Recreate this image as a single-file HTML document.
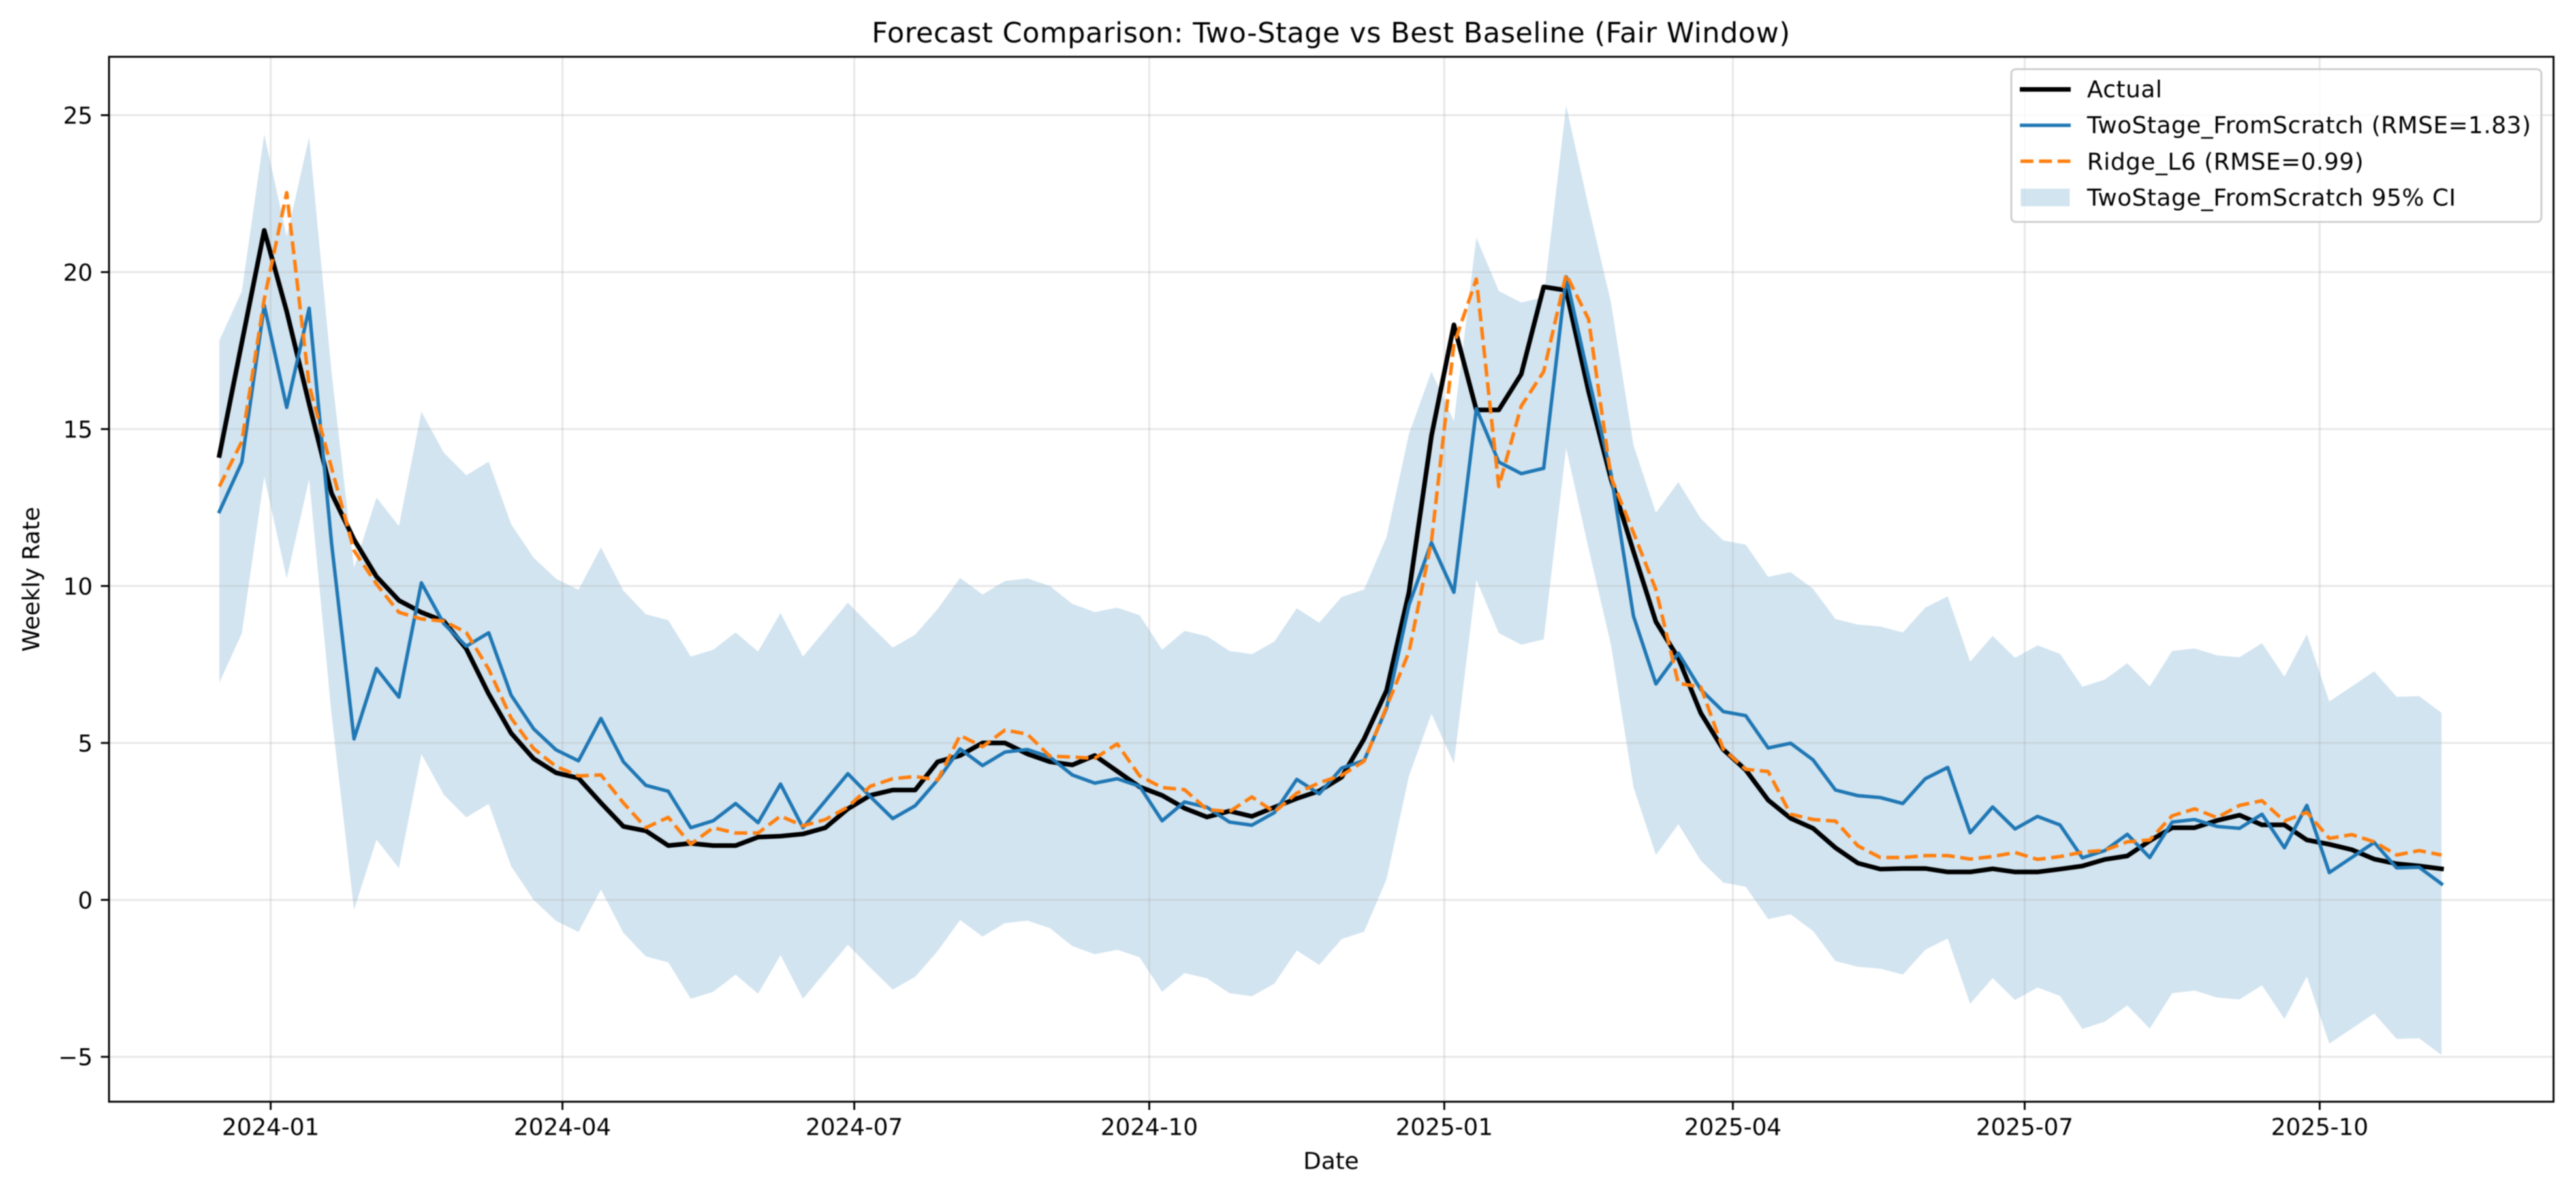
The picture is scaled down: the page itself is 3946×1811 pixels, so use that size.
<!DOCTYPE html>
<html lang="en">
<head>
<meta charset="utf-8">
<title>Forecast Comparison: Two-Stage vs Best Baseline (Fair Window)</title>
<style>
html,body{margin:0;padding:0;background:#fff;}
#chart-root{display:block;width:3946px;height:1811px;filter:blur(0.7px);}
text{font-family:"DejaVu Sans","Liberation Sans",sans-serif;fill:#000;}
.legend-text{letter-spacing:0.62px;}
.title-text{letter-spacing:0.62px;}
</style>
</head>
<body>
<svg id="chart-root" xmlns="http://www.w3.org/2000/svg" width="3946" height="1811" viewBox="0 0 3946 1811">
  <rect x="0" y="0" width="3946" height="1811" fill="#ffffff"/>
  <g id="ci-layer"></g>
  <g id="grid-layer"></g>
  <g id="line-layer"></g>
  <g id="tick-layer"></g>
  <rect x="167" y="87" width="3744.6" height="1601" fill="none" stroke="#000" stroke-width="2.86"/>
  <text class="title-text" x="2039" y="65" font-size="42.8" text-anchor="middle">Forecast Comparison: Two-Stage vs Best Baseline (Fair Window)</text>
  <text x="2039" y="1791" font-size="35.7" text-anchor="middle">Date</text>
  <text x="60" y="887.5" font-size="35.7" text-anchor="middle" transform="rotate(-90 60 887.5)">Weekly Rate</text>
  <g>
    <rect x="3081" y="106" width="812" height="234" rx="7" ry="7" fill="#ffffff" fill-opacity="0.8" stroke="#cccccc" stroke-width="2.86"/>
    <g>
      <line x1="3094" y1="137" x2="3172" y2="137" stroke="#000" stroke-width="7.1"/>
      <text class="legend-text" x="3197" y="149" font-size="35.7">Actual</text>
    </g>
    <g>
      <line x1="3094" y1="192" x2="3172" y2="192" stroke="#1f77b4" stroke-width="5.35"/>
      <text class="legend-text" x="3197" y="204" font-size="35.7">TwoStage_FromScratch (RMSE=1.83)</text>
    </g>
    <g>
      <line x1="3095" y1="247" x2="3172" y2="247" stroke="#ff7f0e" stroke-width="5.35" stroke-dasharray="19.8 8.6"/>
      <text class="legend-text" x="3197" y="260" font-size="35.7">Ridge_L6 (RMSE=0.99)</text>
    </g>
    <g>
      <rect x="3095.5" y="289" width="75" height="27" fill="#1f77b4" fill-opacity="0.2"/>
      <text class="legend-text" x="3197" y="315" font-size="35.7">TwoStage_FromScratch 95% CI</text>
    </g>
  </g>
</svg>
<script>
const dates = ["2023-12-16","2023-12-23","2023-12-30","2024-01-06","2024-01-13","2024-01-20","2024-01-27","2024-02-03","2024-02-10","2024-02-17","2024-02-24","2024-03-02","2024-03-09","2024-03-16","2024-03-23","2024-03-30","2024-04-06","2024-04-13","2024-04-20","2024-04-27","2024-05-04","2024-05-11","2024-05-18","2024-05-25","2024-06-01","2024-06-08","2024-06-15","2024-06-22","2024-06-29","2024-07-06","2024-07-13","2024-07-20","2024-07-27","2024-08-03","2024-08-10","2024-08-17","2024-08-24","2024-08-31","2024-09-07","2024-09-14","2024-09-21","2024-09-28","2024-10-05","2024-10-12","2024-10-19","2024-10-26","2024-11-02","2024-11-09","2024-11-16","2024-11-23","2024-11-30","2024-12-07","2024-12-14","2024-12-21","2024-12-28","2025-01-04","2025-01-11","2025-01-18","2025-01-25","2025-02-01","2025-02-08","2025-02-15","2025-02-22","2025-03-01","2025-03-08","2025-03-15","2025-03-22","2025-03-29","2025-04-05","2025-04-12","2025-04-19","2025-04-26","2025-05-03","2025-05-10","2025-05-17","2025-05-24","2025-05-31","2025-06-07","2025-06-14","2025-06-21","2025-06-28","2025-07-05","2025-07-12","2025-07-19","2025-07-26","2025-08-02","2025-08-09","2025-08-16","2025-08-23","2025-08-30","2025-09-06","2025-09-13","2025-09-20","2025-09-27","2025-10-04","2025-10-11","2025-10-18","2025-10-25","2025-11-01","2025-11-08"];
const actualValues = [14.16,17.75,21.33,18.75,15.8,12.95,11.48,10.3,9.54,9.16,8.88,8.0,6.56,5.31,4.5,4.05,3.88,3.09,2.34,2.2,1.73,1.8,1.73,1.73,2.0,2.03,2.1,2.3,2.9,3.33,3.5,3.5,4.4,4.6,5.0,5.0,4.65,4.4,4.3,4.6,4.1,3.6,3.33,2.92,2.64,2.83,2.66,2.95,3.23,3.47,3.91,5.13,6.67,9.81,14.78,18.32,15.61,15.61,16.75,19.53,19.42,16.2,13.4,11.1,8.86,7.7,5.95,4.79,4.14,3.18,2.6,2.28,1.66,1.17,0.98,1.0,1.0,0.89,0.89,0.99,0.89,0.89,0.98,1.08,1.29,1.4,1.88,2.3,2.3,2.53,2.7,2.39,2.39,1.91,1.77,1.6,1.3,1.15,1.08,0.99];
const twoStageValues = [12.37,13.94,18.94,15.69,18.85,11.35,5.13,7.37,6.46,10.1,8.8,8.08,8.51,6.52,5.45,4.78,4.43,5.78,4.4,3.65,3.46,2.3,2.52,3.07,2.46,3.69,2.3,3.16,4.02,3.29,2.59,3.0,3.82,4.81,4.28,4.71,4.79,4.55,3.98,3.72,3.86,3.62,2.52,3.12,2.95,2.48,2.38,2.78,3.84,3.38,4.2,4.44,6.11,9.4,11.38,9.8,15.65,13.95,13.58,13.75,19.85,16.64,13.57,9.04,6.88,7.86,6.7,6.0,5.87,4.84,4.99,4.46,3.5,3.32,3.26,3.07,3.86,4.22,2.14,2.96,2.26,2.66,2.39,1.34,1.57,2.09,1.35,2.48,2.56,2.34,2.28,2.73,1.66,3.01,0.87,1.35,1.83,1.02,1.04,0.51];
const ridgeValues = [13.17,14.6,19.14,22.53,16.4,13.76,11.13,10.06,9.16,8.95,8.88,8.52,7.35,5.79,4.82,4.25,3.95,3.98,3.09,2.3,2.63,1.77,2.3,2.13,2.13,2.67,2.36,2.56,2.96,3.62,3.86,3.93,3.82,5.24,4.88,5.41,5.28,4.58,4.55,4.51,4.97,3.95,3.58,3.51,2.88,2.81,3.28,2.8,3.4,3.73,3.97,4.42,6.15,7.9,11.42,17.7,19.78,13.17,15.73,16.83,19.93,18.5,13.46,11.7,9.88,6.9,6.78,4.8,4.16,4.09,2.73,2.56,2.51,1.72,1.35,1.35,1.41,1.41,1.3,1.38,1.51,1.29,1.38,1.52,1.58,1.85,1.91,2.68,2.9,2.62,3.01,3.16,2.51,2.79,1.96,2.08,1.85,1.43,1.57,1.43];
const ciUpper = [17.82,19.39,24.39,21.14,24.30,16.80,10.58,12.82,11.91,15.55,14.25,13.53,13.96,11.97,10.90,10.23,9.88,11.23,9.85,9.10,8.91,7.75,7.97,8.52,7.91,9.14,7.75,8.61,9.47,8.74,8.04,8.45,9.27,10.26,9.73,10.16,10.24,10.00,9.43,9.17,9.31,9.07,7.97,8.57,8.40,7.93,7.83,8.23,9.29,8.83,9.65,9.89,11.56,14.85,16.83,15.25,21.10,19.40,19.03,19.20,25.30,22.09,19.02,14.49,12.33,13.31,12.15,11.45,11.32,10.29,10.44,9.91,8.95,8.77,8.71,8.52,9.31,9.67,7.59,8.41,7.71,8.11,7.84,6.79,7.02,7.54,6.80,7.93,8.01,7.79,7.73,8.18,7.11,8.46,6.32,6.80,7.28,6.47,6.49,5.96];
const ciLower = [6.92,8.49,13.49,10.24,13.40,5.90,-0.32,1.92,1.01,4.65,3.35,2.63,3.06,1.07,0.00,-0.67,-1.02,0.33,-1.05,-1.80,-1.99,-3.15,-2.93,-2.38,-2.99,-1.76,-3.15,-2.29,-1.43,-2.16,-2.86,-2.45,-1.63,-0.64,-1.17,-0.74,-0.66,-0.90,-1.47,-1.73,-1.59,-1.83,-2.93,-2.33,-2.50,-2.97,-3.07,-2.67,-1.61,-2.07,-1.25,-1.01,0.66,3.95,5.93,4.35,10.20,8.50,8.13,8.30,14.40,11.19,8.12,3.59,1.43,2.41,1.25,0.55,0.42,-0.61,-0.46,-0.99,-1.95,-2.13,-2.19,-2.38,-1.59,-1.23,-3.31,-2.49,-3.19,-2.79,-3.06,-4.11,-3.88,-3.36,-4.10,-2.97,-2.89,-3.11,-3.17,-2.72,-3.79,-2.44,-4.58,-4.10,-3.62,-4.43,-4.41,-4.94];
const xTickLabels = ["2024-01","2024-04","2024-07","2024-10","2025-01","2025-04","2025-07","2025-10"];
const yTickValues = [-5,0,5,10,15,20,25];

const SVG_NS = "http://www.w3.org/2000/svg";
const plotLeft = 167, plotRight = 3911.6, plotTop = 87, plotBottom = 1688;
const DAY_MS = 86400000;
const xOrigin = Date.UTC(2024, 0, 1);
const xDomainDays = [-50.41, 711.93];
const yDomain = [-6.43, 26.86];

function dayOf(label) {
  const parts = label.split("-").map(Number);
  return (Date.UTC(parts[0], parts[1] - 1, parts[2] || 1) - xOrigin) / DAY_MS;
}
function xScale(label) {
  const t = (dayOf(label) - xDomainDays[0]) / (xDomainDays[1] - xDomainDays[0]);
  return plotLeft + t * (plotRight - plotLeft);
}
function yScale(value) {
  const t = (value - yDomain[0]) / (yDomain[1] - yDomain[0]);
  return plotBottom - t * (plotBottom - plotTop);
}
function make(tag, attrs) {
  const el = document.createElementNS(SVG_NS, tag);
  for (const key in attrs) el.setAttribute(key, attrs[key]);
  return el;
}
function pointsFor(values) {
  return values.map(function (v, i) {
    return xScale(dates[i]).toFixed(2) + "," + yScale(v).toFixed(2);
  });
}

const ciLayer = document.getElementById("ci-layer");
const gridLayer = document.getElementById("grid-layer");
const lineLayer = document.getElementById("line-layer");
const tickLayer = document.getElementById("tick-layer");

const bandPoints = pointsFor(ciUpper).concat(pointsFor(ciLower).reverse()).join(" ");
const band = make("polygon", { points: bandPoints, fill: "#1f77b4", "fill-opacity": "0.2" });


ciLayer.appendChild(band);

xTickLabels.forEach(function (label) {
  const x = xScale(label);
  const grid = make("line", { x1: x, x2: x, y1: plotTop, y2: plotBottom, stroke: "#b0b0b0", "stroke-width": "2.86", "stroke-opacity": "0.3" });
  
  
  gridLayer.appendChild(grid);

  const tick = make("line", { x1: x, x2: x, y1: plotBottom, y2: plotBottom + 12.5, stroke: "#000", "stroke-width": "2.86" });
  
  
  tickLayer.appendChild(tick);

  const text = make("text", { x: x, y: 1739, "font-size": "35.7", "text-anchor": "middle" });
  
  
  text.textContent = label;
  tickLayer.appendChild(text);
});

yTickValues.forEach(function (value) {
  const y = yScale(value);
  const grid = make("line", { x1: plotLeft, x2: plotRight, y1: y, y2: y, stroke: "#b0b0b0", "stroke-width": "2.86", "stroke-opacity": "0.3" });
  
  
  gridLayer.appendChild(grid);

  const tick = make("line", { x1: plotLeft - 12.5, x2: plotLeft, y1: y, y2: y, stroke: "#000", "stroke-width": "2.86" });
  
  
  tickLayer.appendChild(tick);

  const text = make("text", { x: 142, y: y + 13, "font-size": "35.7", "text-anchor": "end" });
  
  
  text.textContent = value < 0 ? "\u2212" + Math.abs(value) : String(value);
  tickLayer.appendChild(text);
});

const actualLine = make("polyline", { points: pointsFor(actualValues).join(" "), fill: "none", stroke: "#000000", "stroke-width": "7.1", "stroke-linejoin": "round", "stroke-linecap": "square" });


lineLayer.appendChild(actualLine);

const twoStageLine = make("polyline", { points: pointsFor(twoStageValues).join(" "), fill: "none", stroke: "#1f77b4", "stroke-width": "5.35", "stroke-linejoin": "round", "stroke-linecap": "square" });


lineLayer.appendChild(twoStageLine);

const ridgeLine = make("polyline", { points: pointsFor(ridgeValues).join(" "), fill: "none", stroke: "#ff7f0e", "stroke-width": "5.35", "stroke-linejoin": "round", "stroke-linecap": "butt", "stroke-dasharray": "19.8 8.6" });


lineLayer.appendChild(ridgeLine);
</script>
</body>
</html>
